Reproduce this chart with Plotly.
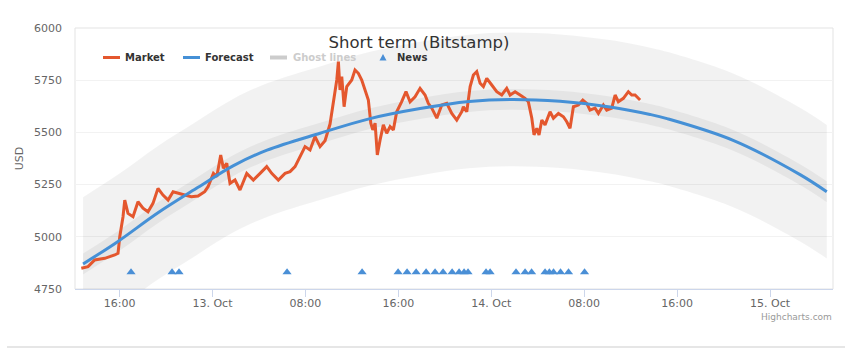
import pandas as pd
import plotly.graph_objects as go

# ---- data -------------------------------------------------------------
# times are hours counted from 2017-10-12 00:00
BASE = pd.Timestamp("2017-10-12")

market_hours = [
    12.71, 13.29, 13.86, 14.73, 15.59, 15.87, 16.02, 16.30, 16.45, 16.73,
    17.16, 17.59, 18.02, 18.45, 18.88, 19.31, 19.74, 20.18, 20.61, 21.04,
    21.61, 22.18, 22.76, 23.33, 23.62, 24.08, 24.37, 24.71, 24.94, 25.23,
    25.51, 25.94, 26.37, 26.95, 27.52, 28.10, 28.67, 29.10, 29.67, 30.25,
    30.68, 31.11, 31.54, 31.97, 32.40, 32.83, 33.26, 33.69, 34.12, 34.41,
    34.70, 34.84, 34.98, 35.13, 35.33, 35.56, 35.99, 36.27, 36.56, 36.85,
    37.13, 37.42, 37.63, 37.80, 38.00, 38.19, 38.43, 38.71, 39.00, 39.29,
    39.57, 39.86, 40.29, 40.66, 41.01, 41.44, 41.87, 42.30, 42.58, 42.88,
    43.31, 43.74, 44.17, 44.60, 45.03, 45.31, 45.46, 45.60, 45.89, 46.18,
    46.46, 46.75, 47.04, 47.32, 47.61, 48.04, 48.47, 48.90, 49.33, 49.62,
    50.05, 50.48, 50.91, 51.19, 51.49, 51.68, 51.92, 52.11, 52.35, 52.63,
    53.06, 53.35, 53.78, 54.21, 54.50, 54.78, 55.07, 55.50, 55.88, 56.22,
    56.50, 56.93, 57.22, 57.65, 57.94, 58.37, 58.66, 58.94, 59.37, 59.80,
    60.09, 60.38, 60.81,
]
market_usd = [
    4849, 4857, 4889, 4897, 4913, 4921, 5000, 5096, 5176, 5112,
    5096, 5168, 5137, 5120, 5160, 5232, 5200, 5176, 5216, 5208,
    5200, 5192, 5195, 5216, 5240, 5304, 5288, 5392, 5328, 5352,
    5256, 5272, 5224, 5304, 5272, 5304, 5336, 5304, 5272, 5304,
    5312, 5336, 5384, 5432, 5416, 5480, 5432, 5460, 5540, 5655,
    5751, 5839, 5703, 5767, 5623, 5719, 5751, 5799, 5783, 5751,
    5703, 5655, 5544, 5512, 5544, 5392, 5464, 5536, 5496, 5528,
    5512, 5599, 5647, 5695, 5647, 5671, 5711, 5679, 5639, 5616,
    5568, 5631, 5639, 5591, 5559, 5583, 5599, 5623, 5599, 5719,
    5775, 5791, 5735, 5719, 5759, 5727, 5695, 5679, 5711, 5679,
    5695, 5679, 5663, 5647, 5568, 5488, 5520, 5488, 5559, 5536,
    5599, 5568, 5591, 5575, 5551, 5520, 5623, 5631, 5655, 5639,
    5607, 5616, 5591, 5631, 5607, 5616, 5679, 5647, 5663, 5695,
    5679, 5679, 5655,
]

forecast_hours = [12.86, 15.87, 19.31, 22.76, 25.77, 28.70, 33.26, 37.57, 41.87,
                  46.09, 49.62, 53.92, 58.23, 61.67, 63.13, 68.82, 74.58, 76.88]
forecast_usd = [4870, 4978, 5115, 5237, 5340, 5415, 5496, 5566, 5614,
                5648, 5658, 5649, 5622, 5586, 5566, 5462, 5298, 5216]

# spread of the ghost-line envelope around the forecast (USD)
ghost_outer_spread = 320
ghost_inner_spread = 50

news_hours = [16.99, 20.52, 21.12, 30.42, 36.88,
              39.98, 40.75, 41.53, 42.39, 43.16, 43.85, 44.63, 45.23, 45.66, 46.00,
              47.55, 47.90, 50.13, 50.91, 51.47,
              52.63, 53.00, 53.36, 53.96, 54.65, 56.03]
news_usd = [4830] * len(news_hours)

tick_hours = [16, 24, 32, 40, 48, 56, 64, 72]
tick_labels = ["16:00", "13. Oct", "08:00", "16:00", "14. Oct", "08:00", "16:00", "15. Oct"]

y_ticks = [4750, 5000, 5250, 5500, 5750, 6000]


def to_time(hours):
    return [BASE + pd.Timedelta(hours=h) for h in hours]


# ---- styling ------------------------------------------------------------
FONT = "DejaVu Sans"
MARKET_COLOR = "#e4572e"
FORECAST_COLOR = "#4590d6"
NEWS_COLOR = "#4a8fd6"
BAND_FILL = "rgba(0,0,0,0.05)"

fig = go.Figure()

fc_t = to_time(forecast_hours)


def add_band(spread):
    upper = [v + spread for v in forecast_usd]
    lower = [v - spread for v in forecast_usd]
    fig.add_trace(go.Scatter(
        x=fc_t, y=upper, mode="lines",
        line=dict(width=0, shape="spline", smoothing=1.0),
        hoverinfo="skip", showlegend=False,
    ))
    fig.add_trace(go.Scatter(
        x=fc_t, y=lower, mode="lines", fill="tonexty", fillcolor=BAND_FILL,
        line=dict(width=0, shape="spline", smoothing=1.0),
        hoverinfo="skip", showlegend=False,
    ))


add_band(ghost_outer_spread)
add_band(ghost_inner_spread)

fig.add_trace(go.Scatter(
    x=to_time(market_hours), y=market_usd, name="Market", mode="lines",
    line=dict(color=MARKET_COLOR, width=3), showlegend=False,
))
fig.add_trace(go.Scatter(
    x=fc_t, y=forecast_usd, name="Forecast", mode="lines",
    line=dict(color=FORECAST_COLOR, width=3, shape="spline", smoothing=1.0),
    showlegend=False,
))
fig.add_trace(go.Scatter(
    x=to_time(news_hours), y=news_usd, name="News", mode="markers",
    marker=dict(symbol="triangle-up", size=8, color=NEWS_COLOR),
    showlegend=False,
))

# ---- layout -------------------------------------------------------------
L, R, T, B = 75, 23, 28, 59
W, H = 856, 348
PW, PH = W - L - R, H - T - B


def px(X):
    return (X - L) / PW


def py(Y):
    return (H - B - Y) / PH


shapes = [
    # plot frame
    dict(type="rect", xref="paper", yref="paper", x0=0, x1=1, y0=0, y1=1,
         line=dict(color="#e3e3e3", width=1), layer="below"),
    # bottom rule of the container
    dict(type="line", xref="paper", yref="paper", x0=px(7), x1=px(845),
         y0=py(347), y1=py(347), line=dict(color="#e6e6e6", width=2)),
]

annotations = []
legend_y = 57.5
legend_items = [
    ("Market", 103, "line", MARKET_COLOR, "#333333"),
    ("Forecast", 183, "line", FORECAST_COLOR, "#333333"),
    ("Ghost lines", 270, "bar", "#cccccc", "#cccccc"),
    ("News", 376, "tri", NEWS_COLOR, "#333333"),
]
for text, x0, kind, col, tcol in legend_items:
    if kind == "line":
        shapes.append(dict(type="line", xref="paper", yref="paper",
                           x0=px(x0), x1=px(x0 + 17), y0=py(legend_y), y1=py(legend_y),
                           line=dict(color=col, width=3)))
        tx = x0 + 21
    elif kind == "bar":
        shapes.append(dict(type="rect", xref="paper", yref="paper",
                           x0=px(x0), x1=px(x0 + 17), y0=py(legend_y + 2), y1=py(legend_y - 2),
                           line=dict(width=0), fillcolor=col))
        tx = x0 + 22
    else:
        shapes.append(dict(type="path", xref="paper", yref="paper",
                           xsizemode="pixel", ysizemode="pixel",
                           xanchor=px(x0 + 7), yanchor=py(legend_y),
                           path="M -3.5 -3 L 3.5 -3 L 0 3.5 Z",
                           line=dict(width=0), fillcolor=col))
        tx = x0 + 20
    annotations.append(dict(
        text=text, xref="paper", yref="paper", x=px(tx), y=py(legend_y),
        xanchor="left", yanchor="middle", showarrow=False, borderpad=0,
        font=dict(family=FONT, size=10, color=tcol, weight="bold"),
    ))

annotations.append(dict(
    text="Highcharts.com", xref="paper", yref="paper", x=px(833), y=py(317),
    xanchor="right", yanchor="middle", showarrow=False, borderpad=0,
    font=dict(family=FONT, size=9, color="#999999"),
))

fig.update_layout(
    width=W, height=H, autosize=False,
    margin=dict(l=L, r=R, t=T, b=B, pad=0),
    paper_bgcolor="white", plot_bgcolor="white",
    showlegend=False,
    title=dict(text="Short term (Bitstamp)", x=px(419), xref="paper", xanchor="center",
               y=1 - 42 / H, yref="container", yanchor="middle",
               font=dict(family=FONT, size=16.5, color="#333333")),
    shapes=shapes, annotations=annotations,
    xaxis=dict(
        type="date",
        range=[BASE + pd.Timedelta(hours=12 + 10 / 60), BASE + pd.Timedelta(hours=77 + 25 / 60)],
        tickvals=to_time(tick_hours), ticktext=tick_labels,
        showgrid=False, zeroline=False,
        showline=True, linecolor="#ccd6eb", linewidth=1,
        ticks="outside", ticklen=7, tickcolor="#ccd6eb",
        ticklabelstandoff=-3,
        tickfont=dict(family=FONT, size=11, color="#666666"),
    ),
    yaxis=dict(
        range=[4750, 6000], tickvals=y_ticks,
        showgrid=True, gridcolor="#f2f2f2", gridwidth=1, zeroline=False,
        showline=False, ticks="", ticklabelstandoff=12,
        tickfont=dict(family=FONT, size=11, color="#666666"),
        title=dict(text="USD", standoff=8, font=dict(family=FONT, size=11, color="#666666")),
    ),
)

fig.write_html("out.html")
